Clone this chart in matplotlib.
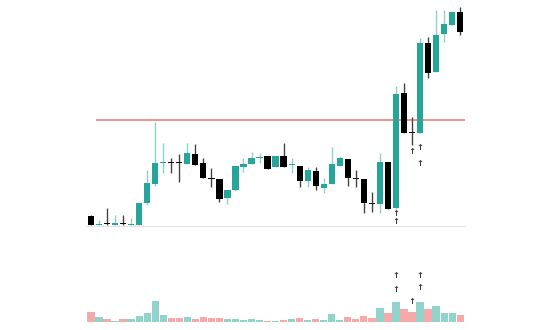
import numpy as np
import matplotlib.pyplot as plt

# K线数据 (开, 高, 低, 收)
opens = [2.4, 1.5, 1.65, 1.5, 1.65, 1.5, 1.5, 3.7, 5.6, 7.7, 7.8, 7.75, 7.6, 8.6, 7.7, 6.15,
         6.1, 4.2, 5.0, 7.3, 7.6, 8.25, 8.4, 7.3, 8.4, 7.5, 7.4, 5.9, 6.9, 5.2, 5.6, 7.4,
         8.1, 6.15, 6.1, 3.65, 3.6, 7.8, 3.2, 14.7, 10.75, 10.7, 19.7, 16.8, 20.6, 21.5, 22.8]
highs = [2.5, 2.0, 3.2, 2.5, 2.5, 2.2, 3.7, 7.0, 11.8, 9.7, 8.2, 8.6, 9.7, 9.6, 8.2, 7.2,
         6.1, 5.0, 7.4, 8.2, 8.8, 8.7, 8.4, 8.4, 9.7, 8.2, 7.4, 7.3, 7.3, 6.2, 9.3, 8.4,
         8.1, 7.0, 6.1, 4.8, 8.7, 7.8, 15.4, 15.7, 12.3, 20.2, 20.3, 23.0, 23.0, 22.8, 23.3]
lows = [1.5, 1.5, 1.5, 1.5, 1.5, 1.5, 1.5, 3.5, 5.4, 6.7, 6.7, 5.8, 7.6, 7.5, 6.2, 5.3,
        3.8, 3.6, 4.9, 6.8, 7.6, 7.7, 7.1, 7.3, 7.3, 6.7, 5.3, 5.3, 5.0, 4.7, 5.6, 7.4,
        5.4, 5.3, 2.7, 2.8, 2.7, 3.1, 3.1, 10.7, 9.5, 10.7, 16.2, 16.8, 19.8, 21.5, 20.5]
closes = [1.5, 1.6, 1.6, 1.7, 1.6, 1.6, 3.7, 5.7, 7.7, 7.75, 7.7, 7.7, 8.7, 7.5, 6.2, 6.1,
          4.1, 5.0, 7.4, 7.6, 8.2, 8.3, 7.1, 8.4, 7.3, 7.55, 5.9, 7.0, 5.4, 5.6, 7.6, 8.2,
          6.2, 6.1, 3.7, 3.6, 7.8, 3.1, 14.6, 10.7, 10.7, 19.7, 16.7, 20.5, 21.6, 22.8, 20.8]
volumes = [10, 5, 3, 1.5, 3, 3, 6, 9, 21, 7, 4, 4, 5, 3, 5, 4, 4, 3, 3, 2, 3, 2, 1.5, 1.5,
           2, 3, 4.5, 2, 3, 2, 8, 2, 5, 3, 6, 4.5, 14, 9, 20, 13, 10, 20, 13, 16, 9, 9, 7]

level_price = 12.0  # 红色水平线

# 箭头标记 (K线序号, 位置)
price_arrow_idx = [38, 38, 40, 41, 41]
price_arrow_y = [2.65, 1.85, 8.8, 9.2, 7.7]
vol_arrow_idx = [38, 38, 40, 41, 41]
vol_arrow_y = [47, 32, 20, 47, 34]

up_color = '#26a69a'
down_color = '#000000'

fig = plt.figure(figsize=(5.5, 3.3), dpi=100)
W, H = 550, 330
ax = fig.add_axes([86 / W, (H - 226) / H, (465 - 86) / W, (226 - 5) / H])
axv = fig.add_axes([86 / W, (H - 322) / H, (465 - 86) / W, 62 / H])

x = np.arange(len(opens))
for i in x:
    o, h, l, c = opens[i], highs[i], lows[i], closes[i]
    up = c >= o
    col = up_color if up else down_color
    wick_col = '#8fd1c6' if up else '#444444'
    ax.vlines(i, l, h, color=wick_col, linewidth=1.0, zorder=1)
    body = max(abs(c - o), 0.08)
    ax.bar(i, body, bottom=min(o, c), width=0.78, color=col, zorder=2)

ax.axhline(level_price, color='#f08a88', linewidth=1.3, xmin=0.03, zorder=0)

for i, y in zip(price_arrow_idx, price_arrow_y):
    ax.text(i, y, '↑', ha='center', va='center', fontsize=6, fontweight='bold',
            color='#3a3a3a', zorder=5)

ax.set_xlim(-0.62, 46.6)
ax.set_ylim(1.4, 23.5)
for s in ['top', 'right', 'left']:
    ax.spines[s].set_visible(False)
ax.spines['bottom'].set_color('#e6e6e6')
ax.set_xticks([])
ax.set_yticks([])

vcolors = ['#92d3cc' if closes[i] >= opens[i] else '#f5a9a8' for i in x]
axv.bar(x, volumes, width=0.9, color=vcolors)
for i, y in zip(vol_arrow_idx, vol_arrow_y):
    axv.text(i, y, '↑', ha='center', va='center', fontsize=6, fontweight='bold', color='#3a3a3a')
axv.set_xlim(-0.62, 46.6)
axv.set_ylim(0, 62)
axv.axis('off')

fig.savefig('out.png', dpi=100)
